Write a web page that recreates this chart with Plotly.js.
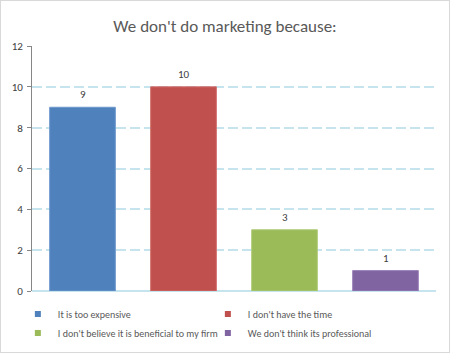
<!DOCTYPE html>
<html><head><meta charset="utf-8">
<script src="https://cdn.plot.ly/plotly-3.0.1.min.js"></script>
<style>
html,body{margin:0;padding:0;background:#fff;}
#wrap{width:450px;height:353px;box-sizing:border-box;border:1px solid #d9d9d9;}
#chart{width:448px;height:351px;}
</style></head>
<body><div id="wrap"><div id="chart"></div></div>
<script>
const categories = ["It is too expensive", "I don't have the time", "I don't believe it is beneficial to my firm", "We don't think its professional"];
const values = [9, 10, 3, 1];
const colors = ["#4F81BD", "#C0504D", "#9BBB59", "#8064A2"];
const borders = ["#6E98CC", "#D06E6B", "#AFCB78", "#9A82B8"];
const yTicks = [0, 2, 4, 6, 8, 10, 12];
const FONT = 'Carlito, Lato, Open Sans, sans-serif';

const traces = [];
categories.forEach((c, i) => {
  traces.push({
    type: 'bar', x: [c], y: [values[i]], width: 0.65,
    marker: {color: colors[i], line: {color: borders[i], width: 1}},
    showlegend: false, hoverinfo: 'skip'
  });
});
categories.forEach((c, i) => {
  traces.push({
    type: 'scatter', mode: 'markers', x: [null], y: [null], name: c,
    marker: {symbol: 'square', size: 6, color: colors[i]}, showlegend: true
  });
});

const annotations = categories.map((c, i) => ({
  x: c, y: values[i], xref: 'x', yref: 'y', text: String(values[i]),
  showarrow: false, yanchor: 'bottom', yshift: 4,
  font: {size: 11, color: '#404040', family: FONT}
}));

const layout = {
  width: 448, height: 351,
  margin: {l: 31, r: 13, t: 45, b: 61, autoexpand: false},
  paper_bgcolor: '#fff', plot_bgcolor: '#fff',
  font: {family: FONT, color: '#595959', size: 11},
  title: {text: "We don't do marketing because:", x: 0.5, xanchor: 'center', y: 0.928, yanchor: 'middle',
          font: {size: 17, color: '#595959', family: FONT}},
  barmode: 'overlay',
  annotations: annotations,
  xaxis: {showticklabels: false, showgrid: false, zeroline: false, showline: false, ticks: '',
          categoryorder: 'array', categoryarray: categories, range: [-0.5, 3.5]},
  yaxis: {range: [0, 12], tickvals: yTicks, ticktext: yTicks.map(String),
          showgrid: true, gridcolor: '#C6E4EE', griddash: '10px,4px', gridwidth: 2,
          zeroline: true, zerolinecolor: '#C6E4EE', zerolinewidth: 2,
          showline: true, linecolor: '#868686', linewidth: 1,
          ticks: 'outside', ticklen: 4, tickcolor: '#868686',
          tickfont: {size: 11, color: '#404040'}, ticklabelstandoff: 2},
  legend: {orientation: 'h', x: -0.035, xanchor: 'left', y: -0.035, yanchor: 'top',
           entrywidth: 145, entrywidthmode: 'pixels', itemwidth: 30, tracegroupgap: 0,
           font: {size: 10, color: '#595959'}},
  showlegend: true
};
Plotly.newPlot('chart', traces, layout, {displayModeBar: false, staticPlot: true});
</script></body></html>
